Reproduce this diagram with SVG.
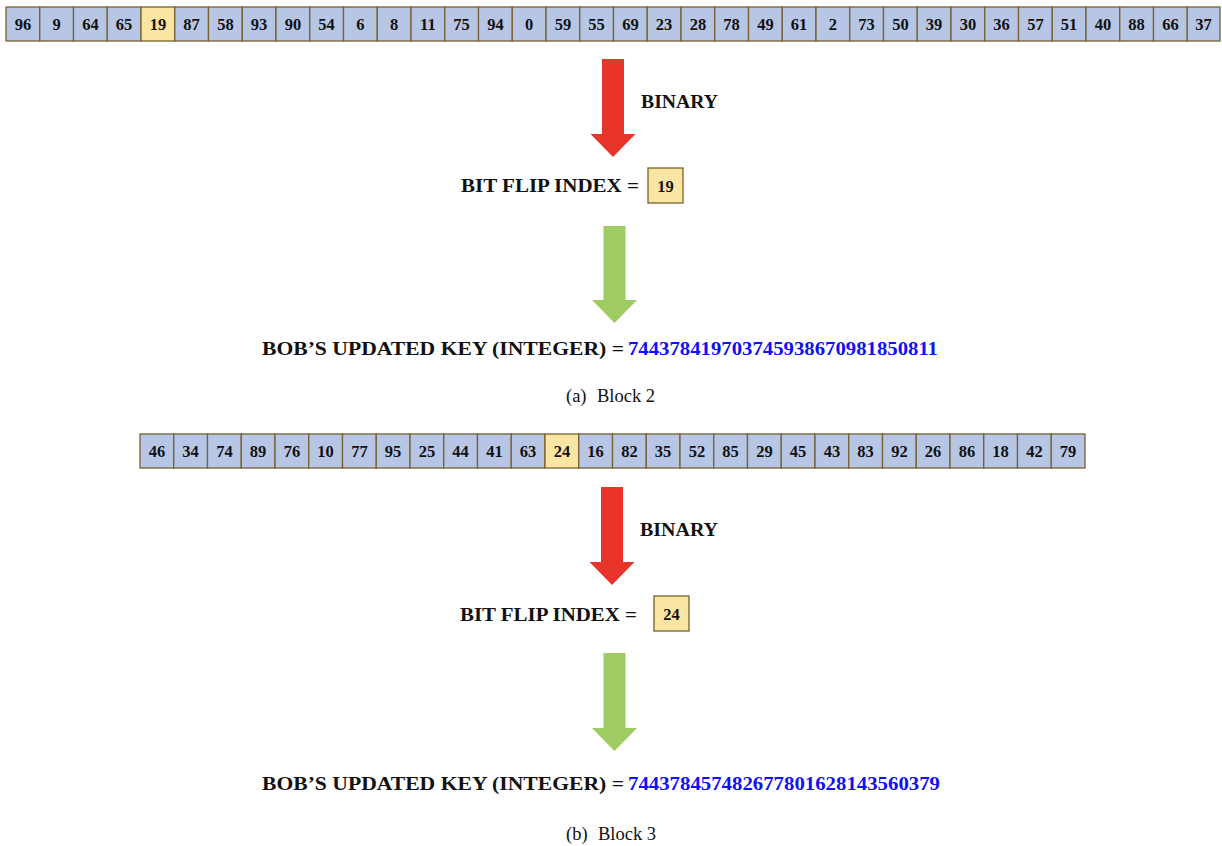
<svg xmlns="http://www.w3.org/2000/svg" width="1222" height="846" viewBox="0 0 1222 846">
  <style>
    .cell { fill: #b8c6e6; stroke: #76612f; stroke-width: 1.3; }
    .hit { fill: #fbe5a2; stroke: #76612f; stroke-width: 1.3; }
    .num { font-family: "Liberation Serif", "Times New Roman", serif; font-weight: bold; font-size: 16.5px; fill: #111; text-anchor: middle; }
    .lbl { font-family: "Liberation Serif", "Times New Roman", serif; font-weight: bold; font-size: 18px; fill: #111; }
    .key { font-family: "Liberation Serif", "Times New Roman", serif; font-weight: bold; font-size: 18px; fill: #1010f5; }
    .cap { font-family: "Liberation Serif", "Times New Roman", serif; font-size: 18.5px; fill: #111; }
    .red { fill: #e8342a; }
    .green { fill: #9fcc62; }
  </style>

  <!-- Block 2: input array (36 entries, index 4 highlighted) -->
  <g id="block2-array">
    <rect class="cell" x="6" y="7" width="33.75" height="34"/><text class="num" x="22.9" y="29.5">96</text>
    <rect class="cell" x="39.75" y="7" width="33.75" height="34"/><text class="num" x="56.6" y="29.5">9</text>
    <rect class="cell" x="73.5" y="7" width="33.75" height="34"/><text class="num" x="90.4" y="29.5">64</text>
    <rect class="cell" x="107.25" y="7" width="33.75" height="34"/><text class="num" x="124.1" y="29.5">65</text>
    <rect class="hit" x="141" y="7" width="33.75" height="34"/><text class="num" x="157.9" y="29.5">19</text>
    <rect class="cell" x="174.75" y="7" width="33.75" height="34"/><text class="num" x="191.6" y="29.5">87</text>
    <rect class="cell" x="208.5" y="7" width="33.75" height="34"/><text class="num" x="225.4" y="29.5">58</text>
    <rect class="cell" x="242.25" y="7" width="33.75" height="34"/><text class="num" x="259.1" y="29.5">93</text>
    <rect class="cell" x="276" y="7" width="33.75" height="34"/><text class="num" x="292.9" y="29.5">90</text>
    <rect class="cell" x="309.75" y="7" width="33.75" height="34"/><text class="num" x="326.6" y="29.5">54</text>
    <rect class="cell" x="343.5" y="7" width="33.75" height="34"/><text class="num" x="360.4" y="29.5">6</text>
    <rect class="cell" x="377.25" y="7" width="33.75" height="34"/><text class="num" x="394.1" y="29.5">8</text>
    <rect class="cell" x="411" y="7" width="33.75" height="34"/><text class="num" x="427.9" y="29.5">11</text>
    <rect class="cell" x="444.75" y="7" width="33.75" height="34"/><text class="num" x="461.6" y="29.5">75</text>
    <rect class="cell" x="478.5" y="7" width="33.75" height="34"/><text class="num" x="495.4" y="29.5">94</text>
    <rect class="cell" x="512.25" y="7" width="33.75" height="34"/><text class="num" x="529.1" y="29.5">0</text>
    <rect class="cell" x="546" y="7" width="33.75" height="34"/><text class="num" x="562.9" y="29.5">59</text>
    <rect class="cell" x="579.75" y="7" width="33.75" height="34"/><text class="num" x="596.6" y="29.5">55</text>
    <rect class="cell" x="613.5" y="7" width="33.75" height="34"/><text class="num" x="630.4" y="29.5">69</text>
    <rect class="cell" x="647.25" y="7" width="33.75" height="34"/><text class="num" x="664.1" y="29.5">23</text>
    <rect class="cell" x="681" y="7" width="33.75" height="34"/><text class="num" x="697.9" y="29.5">28</text>
    <rect class="cell" x="714.75" y="7" width="33.75" height="34"/><text class="num" x="731.6" y="29.5">78</text>
    <rect class="cell" x="748.5" y="7" width="33.75" height="34"/><text class="num" x="765.4" y="29.5">49</text>
    <rect class="cell" x="782.25" y="7" width="33.75" height="34"/><text class="num" x="799.1" y="29.5">61</text>
    <rect class="cell" x="816" y="7" width="33.75" height="34"/><text class="num" x="832.9" y="29.5">2</text>
    <rect class="cell" x="849.75" y="7" width="33.75" height="34"/><text class="num" x="866.6" y="29.5">73</text>
    <rect class="cell" x="883.5" y="7" width="33.75" height="34"/><text class="num" x="900.4" y="29.5">50</text>
    <rect class="cell" x="917.25" y="7" width="33.75" height="34"/><text class="num" x="934.1" y="29.5">39</text>
    <rect class="cell" x="951" y="7" width="33.75" height="34"/><text class="num" x="967.9" y="29.5">30</text>
    <rect class="cell" x="984.75" y="7" width="33.75" height="34"/><text class="num" x="1001.6" y="29.5">36</text>
    <rect class="cell" x="1018.5" y="7" width="33.75" height="34"/><text class="num" x="1035.4" y="29.5">57</text>
    <rect class="cell" x="1052.25" y="7" width="33.75" height="34"/><text class="num" x="1069.1" y="29.5">51</text>
    <rect class="cell" x="1086" y="7" width="33.75" height="34"/><text class="num" x="1102.9" y="29.5">40</text>
    <rect class="cell" x="1119.75" y="7" width="33.75" height="34"/><text class="num" x="1136.6" y="29.5">88</text>
    <rect class="cell" x="1153.5" y="7" width="33.75" height="34"/><text class="num" x="1170.4" y="29.5">66</text>
    <rect class="cell" x="1187.25" y="7" width="32.75" height="34"/><text class="num" x="1203.6" y="29.5">37</text>
  </g>

  <g id="block2-index">
    <text class="lbl" x="461" y="192" textLength="178" lengthAdjust="spacingAndGlyphs">BIT FLIP INDEX =</text>
    <rect class="hit" x="648" y="168" width="35" height="35"/>
    <text class="num" x="665.5" y="191.5" font-size="15">19</text>
  </g>

  <g id="block2-key">
    <text class="lbl" x="262" y="355" textLength="362" lengthAdjust="spacingAndGlyphs">BOB’S UPDATED KEY (INTEGER) =</text>
    <text class="key" x="628" y="355" textLength="310" lengthAdjust="spacingAndGlyphs">744378419703745938670981850811</text>
  </g>

  <g id="caption-a">
    <text class="cap" x="566" y="402">(a)</text>
    <text class="cap" x="597" y="402">Block 2</text>
  </g>

  <!-- Block 3: input array (28 entries, index 12 highlighted) -->
  <g id="block3-array">
    <rect class="cell" x="140" y="434" width="33.75" height="34"/><text class="num" x="156.9" y="456.5">46</text>
    <rect class="cell" x="173.75" y="434" width="33.75" height="34"/><text class="num" x="190.6" y="456.5">34</text>
    <rect class="cell" x="207.5" y="434" width="33.75" height="34"/><text class="num" x="224.4" y="456.5">74</text>
    <rect class="cell" x="241.25" y="434" width="33.75" height="34"/><text class="num" x="258.1" y="456.5">89</text>
    <rect class="cell" x="275" y="434" width="33.75" height="34"/><text class="num" x="291.9" y="456.5">76</text>
    <rect class="cell" x="308.75" y="434" width="33.75" height="34"/><text class="num" x="325.6" y="456.5">10</text>
    <rect class="cell" x="342.5" y="434" width="33.75" height="34"/><text class="num" x="359.4" y="456.5">77</text>
    <rect class="cell" x="376.25" y="434" width="33.75" height="34"/><text class="num" x="393.1" y="456.5">95</text>
    <rect class="cell" x="410" y="434" width="33.75" height="34"/><text class="num" x="426.9" y="456.5">25</text>
    <rect class="cell" x="443.75" y="434" width="33.75" height="34"/><text class="num" x="460.6" y="456.5">44</text>
    <rect class="cell" x="477.5" y="434" width="33.75" height="34"/><text class="num" x="494.4" y="456.5">41</text>
    <rect class="cell" x="511.25" y="434" width="33.75" height="34"/><text class="num" x="528.1" y="456.5">63</text>
    <rect class="hit" x="545" y="434" width="33.75" height="34"/><text class="num" x="561.9" y="456.5">24</text>
    <rect class="cell" x="578.75" y="434" width="33.75" height="34"/><text class="num" x="595.6" y="456.5">16</text>
    <rect class="cell" x="612.5" y="434" width="33.75" height="34"/><text class="num" x="629.4" y="456.5">82</text>
    <rect class="cell" x="646.25" y="434" width="33.75" height="34"/><text class="num" x="663.1" y="456.5">35</text>
    <rect class="cell" x="680" y="434" width="33.75" height="34"/><text class="num" x="696.9" y="456.5">52</text>
    <rect class="cell" x="713.75" y="434" width="33.75" height="34"/><text class="num" x="730.6" y="456.5">85</text>
    <rect class="cell" x="747.5" y="434" width="33.75" height="34"/><text class="num" x="764.4" y="456.5">29</text>
    <rect class="cell" x="781.25" y="434" width="33.75" height="34"/><text class="num" x="798.1" y="456.5">45</text>
    <rect class="cell" x="815" y="434" width="33.75" height="34"/><text class="num" x="831.9" y="456.5">43</text>
    <rect class="cell" x="848.75" y="434" width="33.75" height="34"/><text class="num" x="865.6" y="456.5">83</text>
    <rect class="cell" x="882.5" y="434" width="33.75" height="34"/><text class="num" x="899.4" y="456.5">92</text>
    <rect class="cell" x="916.25" y="434" width="33.75" height="34"/><text class="num" x="933.1" y="456.5">26</text>
    <rect class="cell" x="950" y="434" width="33.75" height="34"/><text class="num" x="966.9" y="456.5">86</text>
    <rect class="cell" x="983.75" y="434" width="33.75" height="34"/><text class="num" x="1000.6" y="456.5">18</text>
    <rect class="cell" x="1017.5" y="434" width="33.75" height="34"/><text class="num" x="1034.4" y="456.5">42</text>
    <rect class="cell" x="1051.25" y="434" width="33.75" height="34"/><text class="num" x="1068.1" y="456.5">79</text>
  </g>

  <g id="block3-index">
    <text class="lbl" x="460" y="620.5" textLength="177" lengthAdjust="spacingAndGlyphs">BIT FLIP INDEX =</text>
    <rect class="hit" x="654" y="596" width="35" height="35"/>
    <text class="num" x="671.5" y="619.5" font-size="15">24</text>
  </g>

  <g id="block3-key">
    <text class="lbl" x="262" y="790" textLength="362" lengthAdjust="spacingAndGlyphs">BOB’S UPDATED KEY (INTEGER) =</text>
    <text class="key" x="628" y="790" textLength="312" lengthAdjust="spacingAndGlyphs">744378457482677801628143560379</text>
  </g>

  <g id="caption-b">
    <text class="cap" x="566" y="840">(b)</text>
    <text class="cap" x="598" y="840">Block 3</text>
  </g>

  <!-- Block arrows between stages -->
  <g id="connectors">
    <polygon class="red" points="602,59 624,59 624,134 635.5,134 613,157 590.5,134 602,134"/>
    <text class="lbl" x="641" y="108" textLength="77" lengthAdjust="spacingAndGlyphs">BINARY</text>
    <polygon class="green" points="603.5,226 625.5,226 625.5,300 637,300 614.5,323 592,300 603.5,300"/>

    <polygon class="red" points="601,487 623,487 623,562 634.5,562 612,585 589.5,562 601,562"/>
    <text class="lbl" x="640" y="535.5" textLength="78" lengthAdjust="spacingAndGlyphs">BINARY</text>
    <polygon class="green" points="603.5,653 625.5,653 625.5,728 637,728 614.5,751 592,728 603.5,728"/>
  </g>
</svg>
